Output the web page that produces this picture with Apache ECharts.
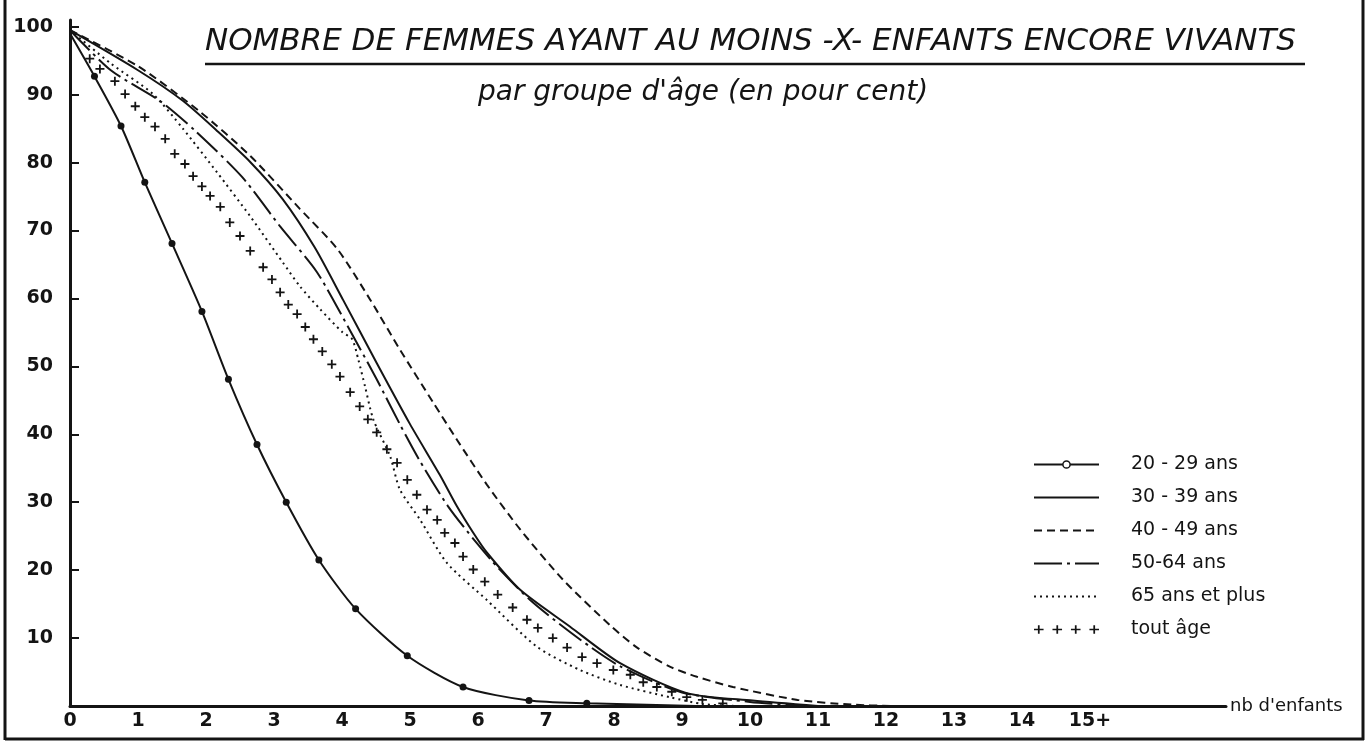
<!DOCTYPE html>
<html>
<head>
<meta charset="utf-8">
<script src="https://cdn.jsdelivr.net/npm/echarts@6/dist/echarts.min.js"></script>
<style>html,body{margin:0;background:#fff}#main{width:1368px;height:744px}</style>
</head>
<body>
<div id="main"></div>
<script>
// groupes d'age (legende)
const groupes = ['20 - 29 ans', '30 - 39 ans', '40 - 49 ans', '50-64 ans', '65 ans et plus', 'tout âge'];

// graduations
const xTicks = [0, 1, 2, 3, 4, 5, 6, 7, 8, 9, 10, 11, 12, 13, 14, 15];
const xTickLabels = ['0', '1', '2', '3', '4', '5', '6', '7', '8', '9', '10', '11', '12', '13', '14', '15+'];
const yTicks = [10, 20, 30, 40, 50, 60, 70, 80, 90, 100];

// [nb d'enfants, % de femmes]
const ans20 = [[0, 99], [0.36, 92.7], [0.75, 85.4], [1.1, 77.1], [1.5, 68.1], [1.94, 58.1], [2.33, 48.1],
    [2.75, 38.5], [3.18, 30.0], [3.66, 21.5], [4.2, 14.3], [4.96, 7.4], [5.78, 2.8], [6.75, 0.8], [7.6, 0.4], [9.2, 0]];
const ans30 = [[0, 99.5], [1, 93.6], [1.66, 89.1], [2.16, 84.7], [2.65, 80.1], [3.13, 74.6], [3.6, 67.5],
    [4.01, 59.9], [4.51, 50.5], [5.0, 41.5], [5.44, 34.0], [5.69, 29.4], [5.93, 25.5], [6.13, 22.6],
    [6.62, 17.1], [7.35, 11.7], [8.09, 6.3], [9.07, 1.9], [10.04, 0.8], [11, 0]];
const ans40 = [[0, 99.5], [1, 94.2], [1.91, 87.5], [2.65, 81.0], [3.38, 73.2], [3.93, 67.3], [4.41, 59.9],
    [4.85, 52.5], [5.34, 44.7], [5.69, 39.2], [6.13, 32.6], [6.62, 26.0], [7.25, 18.6], [7.94, 11.9],
    [8.34, 8.6], [8.82, 5.8], [9.22, 4.3], [9.75, 2.8], [10.7, 0.9], [11.5, 0.2], [12.1, 0]];
const ans50 = [[0, 99.5], [0.6, 93.6], [1.32, 89.1], [1.84, 84.7], [2.53, 77.9], [3.09, 70.6], [3.63, 63.9],
    [4.09, 55.8], [4.51, 48.1], [4.85, 41.5], [5.15, 36.0], [5.56, 29.4], [5.98, 24.0], [6.3, 20.3],
    [6.8, 15.3], [7.5, 9.8], [8.1, 5.8], [9.0, 2.0], [10, 0.6], [10.8, 0]];
const ans65 = [[0, 99.5], [0.6, 94.6], [1.22, 90.1], [1.66, 85.0], [2.16, 78.6], [2.65, 72.1], [3.13, 65.3],
    [3.38, 61.8], [3.68, 58.4], [4.01, 55.0], [4.15, 54.0], [4.24, 51.0], [4.34, 47.0], [4.46, 42.2],
    [4.71, 36.7], [4.85, 31.9], [5.15, 27.4], [5.54, 21.1], [6.13, 15.6], [6.87, 8.7], [7.5, 5.3],
    [8.09, 3.1], [8.82, 1.3], [9.3, 0.3], [9.8, 0]];
const toutAge = [[0.29, 95.3], [0.44, 93.8], [0.66, 92.0], [0.81, 90.1], [0.96, 88.3], [1.10, 86.7],
    [1.25, 85.3], [1.40, 83.5], [1.54, 81.3], [1.69, 79.8], [1.81, 78.0], [1.94, 76.5], [2.06, 75.1],
    [2.21, 73.5], [2.35, 71.2], [2.50, 69.2], [2.65, 67.0], [2.84, 64.6], [2.97, 62.8], [3.09, 60.9],
    [3.21, 59.1], [3.34, 57.7], [3.46, 55.8], [3.58, 54.0], [3.71, 52.2], [3.85, 50.3], [3.97, 48.5],
    [4.12, 46.2], [4.26, 44.1], [4.38, 42.2], [4.51, 40.3], [4.66, 37.8], [4.81, 35.8], [4.96, 33.3],
    [5.10, 31.1], [5.25, 28.9], [5.40, 27.4], [5.51, 25.5], [5.66, 24.0], [5.78, 22.0], [5.93, 20.1],
    [6.10, 18.3], [6.29, 16.4], [6.51, 14.5], [6.72, 12.7], [6.88, 11.5], [7.10, 10.0], [7.31, 8.6],
    [7.53, 7.2], [7.75, 6.3], [7.99, 5.3], [8.24, 4.6], [8.43, 3.5], [8.63, 2.8], [8.85, 2.1],
    [9.07, 1.3], [9.30, 0.9], [9.60, 0.4]];

const ink = '#141414';
const font = 'DejaVu Sans';
const plus = 'path://M4,0 L6,0 L6,4 L10,4 L10,6 L6,6 L6,10 L4,10 L4,6 L0,6 L0,4 L4,4 Z';

// icone de legende "+ + + +"
let plusRow = 'path://';
[5, 22, 39, 56].forEach(function (cx) {
    plusRow += 'M' + (cx - 0.8) + ',1 h1.6 v3.2 h3.6 v1.6 h-3.6 v3.2 h-1.6 v-3.2 h-3.6 v-1.6 h3.6 Z ';
});

let myChart = echarts.init(document.getElementById('main'));

function ligne(name, data, type, extra) {
    return Object.assign({
        name: name,
        type: 'line',
        data: data,
        smooth: 0.25,
        symbol: 'none',
        lineStyle: { color: ink, width: 2, type: type },
        itemStyle: { color: ink },
        z: 3
    }, extra || {});
}

option = {
    backgroundColor: '#fff',
    animation: false,
    title: [
        {
            text: 'NOMBRE DE FEMMES AYANT AU MOINS -X- ENFANTS ENCORE VIVANTS',
            left: 205, top: 26, padding: 0,
            textStyle: { fontFamily: font, fontStyle: 'italic', fontWeight: 'normal', fontSize: 31, color: ink }
        },
        {
            text: "par groupe d'âge (en pour cent)",
            left: 478, top: 79, padding: 0,
            textStyle: { fontFamily: font, fontStyle: 'italic', fontWeight: 'normal', fontSize: 28, color: ink }
        }
    ],
    legend: {
        orient: 'vertical',
        left: 1028,
        top: 450,
        itemWidth: 65,
        itemHeight: 9,
        itemGap: 14,
        selectedMode: false,
        textStyle: { fontFamily: font, fontSize: 19, color: ink, padding: [0, 0, 0, 27] },
        data: [
            { name: groupes[0], itemStyle: { color: '#fff', borderColor: ink, borderWidth: 1.5 } },
            { name: groupes[1], itemStyle: { opacity: 0 } },
            { name: groupes[2], itemStyle: { opacity: 0 } },
            { name: groupes[3], itemStyle: { opacity: 0 } },
            { name: groupes[4], itemStyle: { opacity: 0 } },
            { name: groupes[5], icon: plusRow }
        ]
    },
    grid: { left: 70, top: 20, right: 142, bottom: 38 },
    xAxis: {
        type: 'value',
        min: 0, max: 17, interval: 1,
        name: "nb d'enfants",
        nameLocation: 'end',
        nameGap: 4,
        nameTextStyle: { fontFamily: font, fontSize: 18, color: ink, verticalAlign: 'middle' },
        axisLine: { lineStyle: { color: ink, width: 3 } },
        axisTick: { show: false },
        splitLine: { show: false },
        axisLabel: {
            customValues: xTicks,
            margin: 6,
            fontFamily: font, fontSize: 19, fontWeight: 'bold', color: ink,
            formatter: function (v) { return xTickLabels[xTicks.indexOf(v)]; }
        }
    },
    yAxis: {
        type: 'value',
        min: 0, max: 101, interval: 10,
        axisLine: { show: true, lineStyle: { color: ink, width: 3 } },
        axisTick: { show: true, inside: true, length: 9, customValues: yTicks, lineStyle: { color: ink, width: 2 } },
        splitLine: { show: false },
        axisLabel: {
            customValues: yTicks,
            margin: 17,
            fontFamily: font, fontSize: 19, fontWeight: 'bold', color: ink
        }
    },
    graphic: [
        { type: 'line', shape: { x1: 205, y1: 64, x2: 1305, y2: 64 }, style: { stroke: ink, lineWidth: 2.5 } },
        { type: 'line', shape: { x1: 5, y1: 0, x2: 5, y2: 740 }, style: { stroke: ink, lineWidth: 3 } },
        { type: 'line', shape: { x1: 5, y1: 739, x2: 1364, y2: 739 }, style: { stroke: ink, lineWidth: 3 } },
        { type: 'line', shape: { x1: 1363, y1: 0, x2: 1363, y2: 740 }, style: { stroke: ink, lineWidth: 3 } }
    ],
    series: [
        ligne(groupes[0], ans20.map(function (p, i) {
            return (i === 0 || i === ans20.length - 1) ? { value: p, symbol: 'none' } : p;
        }), 'solid', {
            symbol: 'circle', symbolSize: 7
        }),
        ligne(groupes[1], ans30, 'solid'),
        ligne(groupes[2], ans40, [8, 5]),
        ligne(groupes[3], ans50, [28, 5, 3, 5]),
        ligne(groupes[4], ans65, [2, 4]),
        ligne(groupes[5], toutAge, 'solid', {
            symbol: plus, symbolSize: 9,
            lineStyle: { color: ink, width: 0, opacity: 0 }
        })
    ]
};

myChart.setOption(option);
</script>
</body>
</html>
